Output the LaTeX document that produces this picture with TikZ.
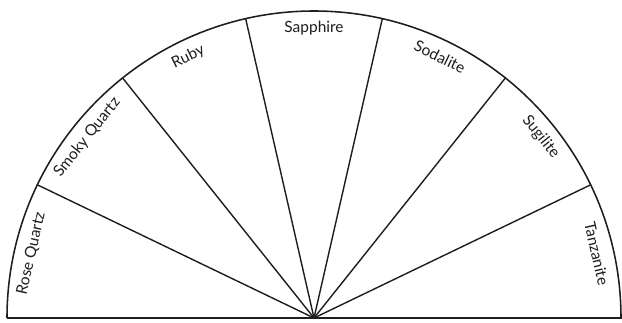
\documentclass[tikz,border=0pt]{standalone}
\usepackage{fontspec}
\setmainfont{Lato}
\usetikzlibrary{positioning}
\definecolor{Ink}{HTML}{1E1E1E}
\tikzset{
  rim/.style={Ink,line width=1.1pt},
  spoke/.style={Ink,line width=1pt},
  gem/.style={inner sep=0pt,text=Ink,font=\fontsize{11}{13}\selectfont}
}

\begin{document}
\begin{tikzpicture}[x=0.025cm,y=0.025cm]
        \useasboundingbox (-314,-4) rectangle (308,318);
        \fill[white] (-314,-4) rectangle (308,318);
        \coordinate (O) at (0,0);
        % sector borders on the rim
        \coordinate (b1) at (25.71:307);
        \coordinate (b2) at (51.43:307);
        \coordinate (b3) at (77.14:307);
        \coordinate (b4) at (102.86:307);
        \coordinate (b5) at (128.57:307);
        \coordinate (b6) at (154.29:307);
        \draw[rim] (-307,0) -- (312,0);
        \draw[rim] (0:307) arc[start angle=0,end angle=180,radius=307];
        \draw[spoke] (O) -- (b1);
        \draw[spoke] (O) -- (b2);
        \draw[spoke] (O) -- (b3);
        \draw[spoke] (O) -- (b4);
        \draw[spoke] (O) -- (b5);
        \draw[spoke] (O) -- (b6);
        % labels, tops toward the rim
        \node[gem,rotate=-77.14] (tanzanite) at (12.86:290) {Tanzanite};
        \node[gem,rotate=-51.43] (sugilite) at (38.57:290) {Sugilite};
        \node[gem,rotate=-25.71] (sodalite) at (64.29:290) {Sodalite};
        \node[gem] (sapphire) at (90:290) {Sapphire};
        \node[gem,rotate=25.71] (ruby) at (115.71:290) {Ruby};
        \node[gem,rotate=51.43] (smoky) at (141.43:290) {Smoky Quartz};
        \node[gem,rotate=77.14] (rose) at (167.14:290) {Rose Quartz};
      \end{tikzpicture}
\end{document}
